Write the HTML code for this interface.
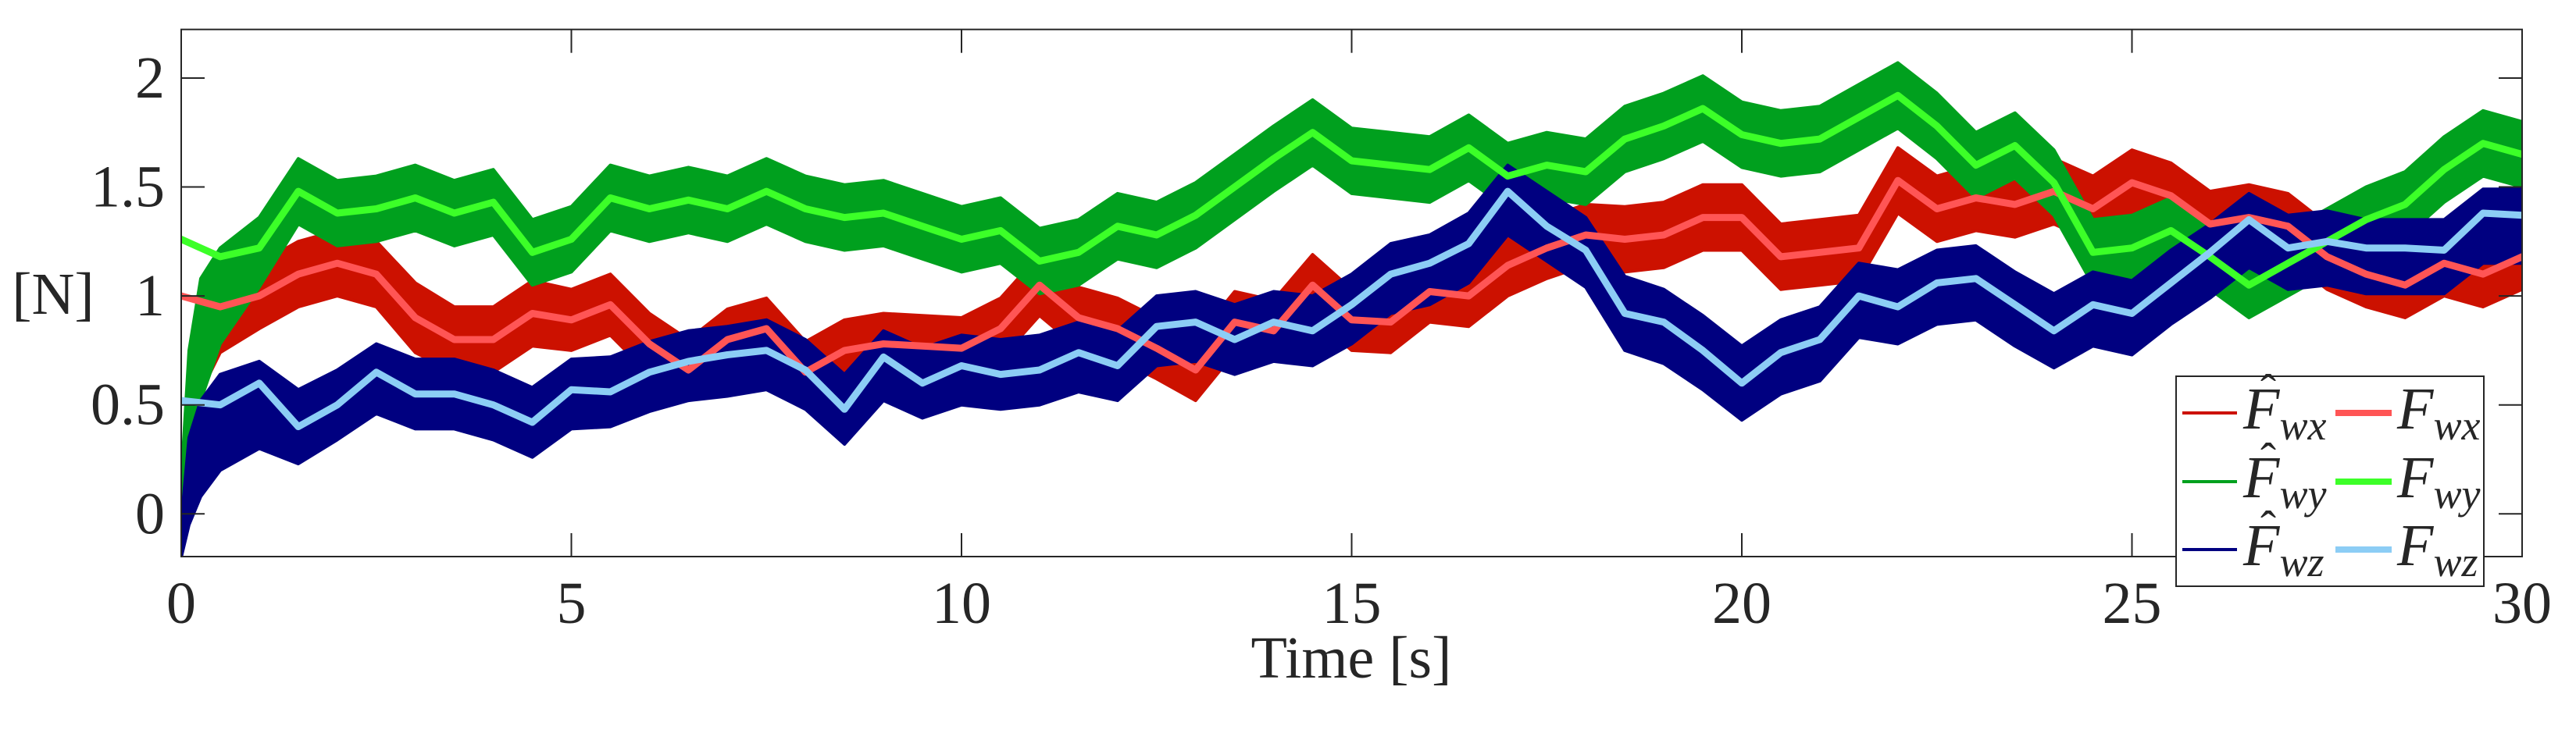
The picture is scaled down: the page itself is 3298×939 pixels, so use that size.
<!DOCTYPE html>
<html><head><meta charset="utf-8"><style>
html,body{margin:0;padding:0;background:#fff;}
svg{display:block;}
text{font-family:"Liberation Serif",serif;fill:#262626;}
</style></head><body>
<svg id="chart" width="3298" height="939" viewBox="0 0 3298 939" xmlns="http://www.w3.org/2000/svg">
<g id="plot"></g>
<g id="axes"></g>
<text x="68" y="402" font-size="76" text-anchor="middle">[N]</text>
<text x="1730" y="868" font-size="76" text-anchor="middle">Time [s]</text>
<g id="legend"></g>
</svg>
<script>
// Time samples for reference forces (every 0.5 s from 0 to 30)
const fTimes = [0,0.5,1,1.5,2,2.5,3,3.5,4,4.5,5,5.5,6,6.5,7,7.5,8,8.5,9,9.5,10,10.5,11,11.5,12,12.5,13,13.5,14,14.5,15,15.5,16,16.5,17,17.5,18,18.5,19,19.5,20,20.5,21,21.5,22,22.5,23,23.5,24,24.5,25,25.5,26,26.5,27,27.5,28,28.5,29,29.5,30];
const fx = [1.0,0.95,1.0,1.10,1.15,1.10,0.90,0.80,0.80,0.92,0.89,0.96,0.78,0.66,0.80,0.85,0.65,0.75,0.78,0.77,0.76,0.85,1.05,0.90,0.85,0.76,0.66,0.88,0.84,1.05,0.89,0.88,1.02,1.00,1.14,1.22,1.28,1.26,1.28,1.36,1.36,1.18,1.20,1.22,1.53,1.40,1.45,1.42,1.48,1.40,1.52,1.46,1.33,1.36,1.32,1.18,1.10,1.05,1.15,1.10,1.18];
const fy = [1.26,1.18,1.22,1.48,1.38,1.40,1.45,1.38,1.43,1.20,1.26,1.45,1.40,1.44,1.40,1.48,1.40,1.36,1.38,1.32,1.26,1.30,1.16,1.20,1.32,1.28,1.37,1.50,1.63,1.75,1.62,1.60,1.58,1.68,1.55,1.60,1.57,1.72,1.78,1.86,1.74,1.70,1.72,1.82,1.92,1.78,1.60,1.69,1.52,1.20,1.22,1.30,1.18,1.05,1.15,1.25,1.35,1.42,1.58,1.70,1.65];
const fz = [0.52,0.50,0.60,0.40,0.50,0.65,0.55,0.55,0.50,0.42,0.57,0.56,0.65,0.70,0.73,0.75,0.66,0.48,0.72,0.60,0.68,0.64,0.66,0.74,0.68,0.86,0.88,0.80,0.88,0.84,0.96,1.10,1.15,1.24,1.48,1.32,1.21,0.92,0.88,0.75,0.60,0.74,0.80,1.00,0.95,1.06,1.08,0.96,0.84,0.96,0.92,1.06,1.20,1.35,1.22,1.25,1.22,1.22,1.21,1.38,1.37];
// Estimated forces: time samples, mean and spread of the noisy band
const hatTimes = [0,0.1,0.25,0.5,1,1.5,2,2.5,3,3.5,4,4.5,5,5.5,6,6.5,7,7.5,8,8.5,9,9.5,10,10.5,11,11.5,12,12.5,13,13.5,14,14.5,15,15.5,16,16.5,17,17.5,18,18.5,19,19.5,20,20.5,21,21.5,22,22.5,23,23.5,24,24.5,25,25.5,26,26.5,27,27.5,28,28.5,29,29.5,30];
const hatX = [-0.15,0.40,0.72,0.90,1.0,1.10,1.15,1.10,0.90,0.80,0.80,0.92,0.89,0.96,0.78,0.66,0.80,0.85,0.65,0.75,0.78,0.77,0.76,0.85,1.05,0.90,0.85,0.76,0.66,0.88,0.84,1.05,0.89,0.88,1.02,1.00,1.14,1.22,1.28,1.26,1.28,1.36,1.36,1.18,1.20,1.22,1.53,1.40,1.45,1.42,1.48,1.40,1.52,1.46,1.33,1.36,1.32,1.18,1.10,1.05,1.15,1.10,1.18];
const hatY = [0.05,0.45,0.80,1.00,1.20,1.48,1.38,1.40,1.45,1.38,1.43,1.20,1.26,1.45,1.40,1.44,1.40,1.48,1.40,1.36,1.38,1.32,1.26,1.30,1.16,1.20,1.32,1.28,1.37,1.50,1.63,1.75,1.62,1.60,1.58,1.68,1.55,1.60,1.57,1.72,1.78,1.86,1.74,1.70,1.72,1.82,1.92,1.78,1.60,1.69,1.52,1.20,1.22,1.30,1.18,1.05,1.15,1.25,1.35,1.42,1.58,1.70,1.65];
const hatZ = [-0.12,0.15,0.30,0.42,0.50,0.40,0.50,0.62,0.55,0.55,0.50,0.42,0.55,0.56,0.63,0.68,0.70,0.73,0.64,0.48,0.68,0.60,0.66,0.64,0.66,0.72,0.68,0.84,0.86,0.80,0.86,0.84,0.94,1.08,1.12,1.22,1.44,1.32,1.20,0.92,0.86,0.74,0.60,0.72,0.78,0.98,0.95,1.04,1.06,0.94,0.84,0.94,0.90,1.04,1.16,1.30,1.20,1.22,1.18,1.18,1.18,1.32,1.32];
const spreadX = [0.05,0.15,0.16,0.16,0.15,0.15,0.15,0.15,0.16,0.15,0.15,0.15,0.14,0.14,0.14,0.14,0.14,0.14,0.14,0.14,0.14,0.14,0.14,0.14,0.14,0.14,0.14,0.14,0.14,0.14,0.14,0.14,0.14,0.14,0.14,0.14,0.14,0.14,0.14,0.15,0.15,0.15,0.15,0.15,0.15,0.15,0.15,0.15,0.15,0.15,0.15,0.15,0.15,0.15,0.15,0.15,0.15,0.15,0.15,0.15,0.15,0.15,0.15];
const spreadY = [0.10,0.30,0.28,0.22,0.16,0.15,0.15,0.15,0.15,0.15,0.15,0.15,0.15,0.15,0.15,0.15,0.15,0.15,0.15,0.15,0.15,0.15,0.15,0.15,0.15,0.15,0.15,0.15,0.15,0.15,0.15,0.15,0.15,0.15,0.15,0.15,0.15,0.15,0.15,0.15,0.15,0.15,0.15,0.15,0.15,0.15,0.15,0.15,0.15,0.15,0.15,0.15,0.15,0.15,0.15,0.15,0.15,0.15,0.15,0.15,0.15,0.15,0.15];
const spreadZ = [0.08,0.20,0.22,0.22,0.20,0.17,0.16,0.16,0.16,0.16,0.16,0.16,0.16,0.16,0.16,0.16,0.16,0.16,0.16,0.16,0.16,0.16,0.16,0.16,0.16,0.16,0.16,0.16,0.16,0.16,0.16,0.16,0.16,0.16,0.16,0.16,0.16,0.16,0.16,0.17,0.17,0.17,0.17,0.17,0.17,0.17,0.17,0.17,0.17,0.17,0.17,0.17,0.17,0.17,0.17,0.17,0.17,0.17,0.17,0.17,0.17,0.17,0.17];
const xTicks = [0,5,10,15,20,25,30];
const xTickLabels = ["0","5","10","15","20","25","30"];
const yTicks = [0,0.5,1,1.5,2];
const yTickLabels = ["0","0.5","1","1.5","2"];

const NS = "http://www.w3.org/2000/svg";
const L = 232, R = 3229, T = 37.7, B = 713;
const xMin = 0, xMax = 30, yMin = -0.196, yMax = 2.223;
function xs(t){ return L + (t - xMin) / (xMax - xMin) * (R - L); }
function ys(v){ return B - (v - yMin) / (yMax - yMin) * (B - T); }
function mk(tag, attrs, parent){ const e = document.createElementNS(NS, tag); for (const k in attrs) e.setAttribute(k, attrs[k]); parent.appendChild(e); return e; }

const plot = document.getElementById('plot');
const clip = mk('clipPath', {id:'clipP'}, mk('defs', {}, plot));
mk('rect', {x:L, y:T, width:R-L, height:B-T}, clip);
const gp = mk('g', {'clip-path':'url(#clipP)'}, plot);

function band(times, mean, spread, color, name){
  let up = [], dn = [];
  for (let i = 0; i < times.length; i++){
    up.push(xs(times[i]).toFixed(1) + ',' + ys(mean[i] + spread[i]).toFixed(1));
    dn.unshift(xs(times[i]).toFixed(1) + ',' + ys(mean[i] - spread[i]).toFixed(1));
  }
  const p = mk('polygon', {points: up.concat(dn).join(' '), fill: color, stroke: color, 'stroke-width': 4, 'stroke-linejoin':'round'}, gp);
  
  
}
function line(times, vals, color, width, name){
  const pts = times.map((t, i) => xs(t).toFixed(1) + ',' + ys(vals[i]).toFixed(1)).join(' ');
  const p = mk('polyline', {points: pts, fill: 'none', stroke: color, 'stroke-width': width, 'stroke-linejoin':'round', 'stroke-linecap':'round'}, gp);
  
  
}
const C = {hx:'#cc1100', fx:'#ff5555', hy:'#00a01e', fy:'#3cff28', hz:'#000080', fz:'#8ccdf5'};
band(hatTimes, hatX, spreadX, C.hx, 'series-fwx-estimate');
band(hatTimes, hatY, spreadY, C.hy, 'series-fwy-estimate');
band(hatTimes, hatZ, spreadZ, C.hz, 'series-fwz-estimate');
line(fTimes, fx, C.fx, 9, 'series-fwx');
line(fTimes, fy, C.fy, 9, 'series-fwy');
line(fTimes, fz, C.fz, 9, 'series-fwz');

const axes = document.getElementById('axes');
const box = mk('rect', {x:L, y:T, width:R-L, height:B-T, fill:'none', stroke:'#262626', 'stroke-width':2}, axes);


xTicks.forEach((t, i) => {
  const x = xs(t);
  mk('line', {x1:x, y1:B, x2:x, y2:B-30, stroke:'#262626', 'stroke-width':2}, axes);
  mk('line', {x1:x, y1:T, x2:x, y2:T+30, stroke:'#262626', 'stroke-width':2}, axes);
  const tx = mk('text', {x:x, y:798, 'font-size':76, 'text-anchor':'middle'}, axes);
  tx.textContent = xTickLabels[i];
  
  
});
yTicks.forEach((v, i) => {
  const y = ys(v);
  mk('line', {x1:L, y1:y, x2:L+30, y2:y, stroke:'#262626', 'stroke-width':2}, axes);
  mk('line', {x1:R, y1:y, x2:R-30, y2:y, stroke:'#262626', 'stroke-width':2}, axes);
  const tx = mk('text', {x:211, y:y+25, 'font-size':76, 'text-anchor':'end'}, axes);
  tx.textContent = yTickLabels[i];
  
  
});

// Legend
const lg = document.getElementById('legend');
const lbox = mk('rect', {x:2786, y:482, width:394, height:269, fill:'#fff', stroke:'#262626', 'stroke-width':2}, lg);


const rows = [529, 617, 704];
const subs = ['wx','wy','wz'];
const hatCols = [C.hx, C.hy, C.hz];
const fCols = [C.fx, C.fy, C.fz];
rows.forEach((y, i) => {
  const g1 = mk('g', {}, lg);
  
  
  mk('line', {x1:2794, y1:y, x2:2864, y2:y, stroke:hatCols[i], 'stroke-width':4}, g1);
  const t1 = mk('text', {x:2872, y:y+20, 'font-size':76, 'font-style':'italic', fill:'#000'}, g1);
  t1.innerHTML = 'F<tspan font-size="54" dy="14">' + subs[i] + '</tspan>';
  const h1 = mk('text', {x:2904, y:y-8, 'font-size':60, fill:'#000', 'text-anchor':'middle'}, g1);
  h1.textContent = 'ˆ';
  const g2 = mk('g', {}, lg);
  
  
  mk('line', {x1:2990, y1:y, x2:3062, y2:y, stroke:fCols[i], 'stroke-width':8}, g2);
  const t2 = mk('text', {x:3069, y:y+20, 'font-size':76, 'font-style':'italic', fill:'#000'}, g2);
  t2.innerHTML = 'F<tspan font-size="54" dy="14">' + subs[i] + '</tspan>';
});
</script>
</body></html>
